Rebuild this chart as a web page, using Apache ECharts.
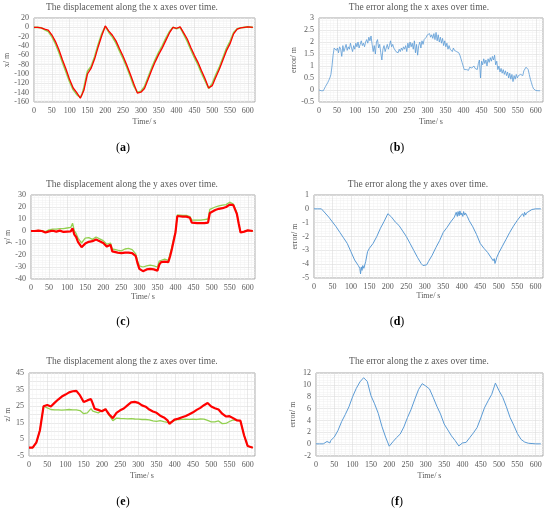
<!DOCTYPE html>
<html>
<head>
<meta charset="utf-8">
<title>displacement and error</title>
<script src="https://cdn.jsdelivr.net/npm/echarts@6/dist/echarts.min.js"></script>
<style>
  html, body { margin: 0; padding: 0; background: #fff; }
  #chart { width: 550px; height: 511px; }
</style>
</head>
<body>
<div id="chart"></div>
<script>
// ---- data (time in s, values in m) ----
// (a) x displacement
const xTime = [0, 10, 20, 30, 40, 50, 60, 70, 80, 90, 100, 110, 120, 130,
  135,
  140, 150, 160, 170, 180, 190, 200, 210, 220, 230,
  240, 250, 260, 270, 280, 290, 300, 310, 320, 330,
  340, 350, 360, 370, 380, 390, 400, 410, 420, 430,
  440, 450, 460, 470, 480, 490,
  495,
  500, 510, 520, 530, 540, 550, 560, 570, 580, 590, 600,
  614];
const xRed = [0, 0, -1, -4, -6, -16, -30, -48, -70, -90, -112, -130, -140, -152,
  -148,
  -135, -100, -88, -68, -42, -18, 3, -8, -17, -29,
  -46, -62, -80, -100, -121, -141, -139, -131, -112, -92,
  -74, -58, -44, -28, -12, 0, -2, 1, -12, -25,
  -43, -60, -75, -93, -110, -130,
  -134,
  -125, -107, -90, -70, -50, -35, -14, -4, -1, 0, 1,
  0];
const xGreen = [0, 0, -1, -5, -9, -20, -35, -54, -76, -96, -117, -134, -144, -150,
  -143,
  -129, -94, -84, -63, -37, -14, 2, -11, -21, -34,
  -51, -67, -85, -105, -126, -139, -137, -127, -107, -87,
  -69, -53, -39, -23, -9, 0, -3, 0, -15, -30,
  -48, -65, -80, -98, -115, -131,
  -132,
  -120, -102, -85, -65, -45, -30, -11, -3, -1, 0, 1,
  0];

// (b) x error, sampled every 3 s
const xErrStep = 3;
const xError = [
  0, 0, -0.03, -0.03, -0.03,
  0.05, 0.15, 0.22, 0.3, 0.4, 0.5, 0.65, 1.0, 1.45, 1.75,
  1.8, 1.65, 1.75, 1.55, 1.8, 1.7, 1.4, 1.85, 1.6, 1.75, 1.9, 1.65, 1.8, 1.7, 1.95, 1.75, 1.6, 1.85, 1.7,
  1.95, 1.8, 2.0, 1.75, 1.9, 2.05, 1.85, 1.95, 1.8, 2.0, 2.1, 1.95, 2.2, 2.05, 2.25, 1.9,
  1.6, 1.85, 1.5, 2.0, 2.1, 1.75, 1.9, 1.55, 1.25, 1.7,
  1.85, 1.6, 1.75, 1.9, 1.7, 1.85, 2.05, 1.8, 1.9, 1.75,
  1.7, 1.6, 1.65, 1.55, 1.7, 1.6, 1.75, 1.65, 1.8, 1.7,
  1.85, 1.6, 1.95, 1.75, 2.0, 1.8, 1.95, 1.7, 2.05, 1.55,
  1.9, 1.45, 1.85, 2.0, 1.75, 2.05, 1.9, 2.1, 2.15, 2.2,
  2.3, 2.25, 2.35, 2.2, 2.3, 2.15, 2.35, 2.1, 2.4, 2.05,
  2.3, 2.0, 2.2, 1.95, 2.15, 1.85, 2.05, 1.8, 1.95, 1.7,
  1.85, 1.7, 1.75, 1.6, 1.75, 1.65, 1.7, 1.6, 1.65, 1.55,
  1.45, 1.3, 1.15, 1.0, 0.85, 0.78, 0.85, 0.9, 0.82, 0.95,
  0.88, 0.92, 0.85, 1.0, 0.9, 0.95, 0.85, 1.1, 1.25, 0.5,
  1.2, 1.05, 1.3, 1.1, 1.25, 1.0, 1.3, 1.15, 1.35, 1.2,
  1.4, 1.25, 1.45, 1.05, 1.2, 0.85, 1.0, 0.75, 0.9, 0.7,
  0.85, 0.65, 0.8, 0.6, 0.75, 0.5, 0.7, 0.45, 0.65, 0.35,
  0.6, 0.45, 0.65, 0.5, 0.6, 0.55, 0.65, 0.7, 0.6, 0.8,
  0.85, 0.95, 1.0, 0.85, 0.65, 0.45, 0.3, 0.15, 0.05, 0.0, -0.02, -0.03, -0.03, -0.03, -0.03
];

// (c) y displacement
const yTime = [0, 10, 20, 30, 40, 50, 60, 70, 80, 90, 100, 110,
  115, 120, 125, 130,
  140, 150, 160, 170, 180, 190, 200, 210,
  215, 220, 225, 230,
  240, 250, 260, 270, 280, 290,
  295,
  300, 310, 320, 330, 340, 350,
  355,
  360, 370, 380,
  385, 390,
  400, 405, 410,
  420, 430, 440,
  445,
  450, 460, 470, 480, 490,
  495,
  500, 510, 520, 530, 540, 550, 560,
  565, 570, 575,
  580, 590, 600,
  614];
const yRed = [0, 0, 0.3, 0, -1.2, -0.3, 0.2, -0.5, 0.3, -0.8, -0.5, -0.3,
  2.3, -3, -5, -9,
  -13.5, -10.5, -9, -8.5, -7, -8.5, -10, -13,
  -14, -11.5, -17, -17.5,
  -18, -18.5, -18, -18, -18.5, -21,
  -27,
  -31.5, -33.5, -32, -31.5, -32, -33,
  -28,
  -26, -25.5, -26,
  -21, -15,
  -1, 12.5, 12.5,
  12, 12, 11,
  7,
  6.5, 6.5, 6.5, 6.5, 7,
  15,
  16, 17.5, 18.5, 19, 20, 22, 21.5,
  21, 14, 6,
  -1.3, -0.5, 0.5,
  0];
const yGreen = [0, 0, 0.5, 0.3, -0.5, 1, 1.5, 1.5, 2, 2, 2.5, 3,
  6.5, 0, -2, -6,
  -10, -6, -5.5, -7, -5, -6.5, -8, -11,
  -12, -10, -15, -15.5,
  -16, -16.5, -15, -14.5, -15.5, -19,
  -25,
  -29, -30, -29, -28.5, -29, -30,
  -25,
  -24, -23.5, -24.5,
  -19, -13,
  0, 13.5, 13.5,
  13, 13, 12,
  9,
  8.5, 9, 9, 9.5, 10,
  18,
  19, 20, 21, 21.5, 22, 24, 22.5,
  22, 15, 6,
  -1, -0.5, 0.5,
  0];

// (d) y error
const yErrTime = [0, 10, 20, 30, 40, 50, 60, 70, 80, 90, 100, 110, 120,
  124, 126, 128, 130, 132, 135,
  140, 145, 150, 155, 160, 170, 180, 190, 200,
  205, 210, 220, 225, 230,
  240, 250, 260, 270, 280, 290,
  295, 300, 305, 310,
  320, 330, 340, 350, 360, 370, 380,
  385, 388, 390, 393, 395, 398, 400, 403, 405, 408, 410, 415,
  420, 430, 440, 450, 460, 470, 480,
  485, 488, 490, 493, 495,
  500, 510, 520, 530, 540, 550, 560,
  565, 568, 570, 573, 575,
  580, 590, 600, 614];
const yError = [0, 0, 0, -0.3, -0.6, -0.95, -1.3, -1.7, -2.1, -2.5, -3.1, -3.7, -4.1,
  -4.3, -4.7, -4.2, -4.45, -4.1, -4.3,
  -3.8, -3.1, -2.85, -2.75, -2.5, -2.0, -1.4, -0.9, -0.35,
  -0.45, -0.6, -0.95, -0.85, -1.2,
  -1.6, -2.0, -2.5, -3.0, -3.5, -3.95,
  -4.1, -4.0, -4.05, -3.8,
  -3.35, -2.8, -2.3, -1.7, -1.35, -0.95, -0.6,
  -0.25, -0.55, -0.2, -0.5, -0.15, -0.45, -0.3, -0.55, -0.2, -0.45, -0.3, -0.55,
  -0.85, -1.3, -1.85, -2.5, -2.85, -3.15, -3.55,
  -3.75, -3.6, -3.95, -3.7, -3.5,
  -3.2, -2.7, -2.2, -1.7, -1.25, -0.85, -0.5,
  -0.35, -0.55, -0.25, -0.45, -0.3,
  -0.2, -0.05, 0, 0];

// (e) z displacement
const zTime = [0, 10, 20, 30, 40, 50, 60, 70, 80, 90, 100, 110, 120, 130, 140, 150,
  155, 160, 170, 175, 180, 190, 200, 210, 215, 220,
  230, 240, 250, 260, 270, 280, 290, 300, 310, 320, 330, 340, 350, 360, 370, 380,
  385, 390,
  400, 410, 420, 430, 440, 450, 460, 470, 480, 490, 500, 510, 520, 530, 540, 550,
  555, 560, 570, 575, 580, 590, 600, 614];
const zRed = [0, 0, 3, 10.5, 25, 25.7, 24.8, 27, 29, 30.8, 32, 33.3, 34, 34.2, 31.5, 27.5,
  27, 28.5, 29.3, 26.5, 23.5, 22.8, 22, 23.2, 21.5, 20,
  17.8, 21, 22.5, 23.6, 25.5, 27.3, 27.6, 27, 25.5, 24.7, 23, 21.8, 21, 19.3, 18.2, 16.5,
  14.4, 15.5,
  17, 17.5, 18.3, 19.1, 20.2, 21.3, 22.8, 24, 25.6, 26.9, 24.8, 23.8, 23, 20.5, 18.8, 19,
  18.5, 17.8, 16.5, 16.4, 16.3, 7.5, 1, 0];
const zGreen = [0, 0, 3, 10.5, 25, 24, 23, 22.8, 22.8, 22.6, 22.8, 23, 22.8, 22.8, 22.4, 20.5,
  19.6, 21, 23.5, 22, 21.2, 21, 22.3, 23.3, 21.5, 19.5,
  16.3, 17.8, 17.6, 17.5, 17.4, 17.5, 17.3, 17.2, 17, 17, 16.8, 16.2, 15.8, 16.3, 15.7, 15.3,
  15.1, 15.6,
  16.5, 17, 17.1, 17.2, 17.1, 17.2, 17, 17.3, 17.2, 16.4, 15.6, 15.5, 16.1, 14.5, 14.6, 15.8,
  16.6, 16.8, 16.7, 16.5, 16.2, 7.3, 1, 0];

// (f) z error
const zErrTime = [0, 10, 20, 25, 30, 35, 38, 40, 45, 50,
  60, 70, 80, 90, 100, 110, 120, 130,
  135,
  140, 150, 160, 170, 180, 190, 200, 210, 220, 230, 240, 250, 260,
  270, 280, 290, 300, 310, 320, 330, 340, 350, 360, 370, 380, 390,
  400, 405, 410,
  420, 430, 440, 450, 460, 470, 480, 490,
  495,
  500, 510, 520, 530, 540, 550, 560, 570, 580, 590, 600,
  614];
const zError = [0.05, 0.05, 0.05, 0.1, 0.45, 0.4, 0.2, 0.6, 0.8, 1.2,
  2.3, 3.8, 5.0, 6.3, 8.0, 9.4, 10.5, 11.2,
  11.3,
  10.6, 8.2, 6.8, 5.2, 3.0, 1.2, -0.35, 0.4, 1.1, 1.7, 2.9, 4.5, 5.9,
  7.6, 9.2, 10.2, 9.8, 9.3, 7.9, 6.4, 5.1, 3.4, 2.4, 1.4, 0.6, -0.3,
  0.2, 0.5, 0.3,
  1.1, 1.9, 2.8, 4.4, 6.1, 7.3, 8.4, 10.3,
  10.2,
  9.0, 7.9, 6.3, 4.5, 3.2, 1.8, 0.8, 0.35, 0.15, 0.1, 0.05,
  0.05];

const titles = [
  'The displacement along the x axes over time.',
  'The error along the x axes over time.',
  'The displacement along the y axes over time.',
  'The error along the y axes over time.',
  'The displacement along the z axes over time.',
  'The error along the z axes over time.'
];
const panelLetters = ['a', 'b', 'c', 'd', 'e', 'f'];
const yNames = ['x/ m', 'error/ m', 'y/ m', 'error/ m', 'z/ m', 'error/ m'];
const xName = 'Time/ s';

// ---- layout ----
const FONT = 'Liberation Serif';
const TXT = '#595959';
const RED = '#ff0000', GREEN = '#92d050', BLUE = '#5b9bd5';

const grids = [
  { left: 34, top: 18, width: 221, height: 84 },
  { left: 319, top: 18, width: 224, height: 84 },
  { left: 31, top: 195, width: 224, height: 84 },
  { left: 314, top: 195, width: 229, height: 83 },
  { left: 29, top: 373, width: 226, height: 83 },
  { left: 316, top: 373, width: 227, height: 83 }
];
const yRanges = [
  { min: -160, max: 20, interval: 20, gap: 21 },
  { min: -0.5, max: 3, interval: 0.5, gap: 17 },
  { min: -40, max: 30, interval: 10, gap: 17 },
  { min: -5, max: 1, interval: 1, gap: 13 },
  { min: -5, max: 45, interval: 5, gap: 16, every: 10 },
  { min: -2, max: 12, interval: 2, gap: 19 }
];
const xGaps = [16, 16, 14, 14, 16, 16];
const titleY = [7, 7, 184, 184, 361, 361];
const titleX = [132, 419, 132, 418, 132, 419];
const letterPos = [[123, 148], [397, 148], [123, 322], [397, 322], [123, 502], [397, 502]];

function pairs(t, v) { return t.map((x, i) => [x, v[i]]); }
function stepPairs(step, v) { return v.map((y, i) => [i * step, y]); }

const option = {
  animation: false,
  backgroundColor: '#fff',
  textStyle: { fontFamily: FONT },
  grid: [], xAxis: [], yAxis: [], series: [], graphic: []
};

grids.forEach(function (g, i) {
  option.grid.push(Object.assign({
    show: true, borderColor: '#a6a6a6', borderWidth: 1, backgroundColor: '#fff'
  }, g));
  option.xAxis.push({
    type: 'value', gridIndex: i, min: 0, max: 620, interval: 50,
    name: xName, nameLocation: 'middle', nameGap: xGaps[i],
    nameTextStyle: { fontFamily: FONT, fontSize: 8, color: TXT },
    axisLine: { show: false }, axisTick: { show: false },
    axisLabel: { showMaxLabel: false, fontFamily: FONT, fontSize: 8, color: TXT, margin: 5 },
    splitLine: { show: true, lineStyle: { color: '#dcdcdc', width: 0.6 } },
    minorTick: { show: false, splitNumber: 5 },
    minorSplitLine: { show: true, lineStyle: { color: '#f0f0f0', width: 0.5 } }
  });
  const r = yRanges[i];
  option.yAxis.push({
    type: 'value', gridIndex: i, min: r.min, max: r.max, interval: r.interval,
    name: yNames[i], nameLocation: 'middle', nameGap: r.gap,
    nameTextStyle: { fontFamily: FONT, fontSize: 8, color: TXT },
    axisLine: { show: false }, axisTick: { show: false },
    axisLabel: {
      fontFamily: FONT, fontSize: 8, color: TXT, margin: 5,
      formatter: r.every ? function (v) { return ((v - r.min) % r.every === 0) ? String(v) : ''; } : null
    },
    splitLine: { show: true, lineStyle: { color: '#dcdcdc', width: 0.6 } },
    minorTick: { show: false, splitNumber: r.every ? 2 : 5 },
    minorSplitLine: { show: true, lineStyle: { color: '#f0f0f0', width: 0.5 } }
  });
  option.graphic.push({
    type: 'text', x: titleX[i], y: titleY[i],
    style: { text: titles[i], fontFamily: FONT, fontSize: 9.5, fill: TXT, align: 'center', verticalAlign: 'middle' }
  });
  option.graphic.push({
    type: 'text', x: letterPos[i][0], y: letterPos[i][1],
    style: {
      text: '{p|(}{b|' + panelLetters[i] + '}{p|)}',
      align: 'center', verticalAlign: 'middle',
      rich: {
        p: { fontFamily: FONT, fontSize: 12, fill: '#000' },
        b: { fontFamily: FONT, fontSize: 12, fontWeight: 'bold', fill: '#000' }
      }
    }
  });
});

function line(idx, data, color, width) {
  return {
    type: 'line', xAxisIndex: idx, yAxisIndex: idx, data: data,
    showSymbol: false, symbol: 'none', smooth: false,
    lineStyle: { color: color, width: width }, itemStyle: { color: color }
  };
}

option.series.push(line(0, pairs(xTime, xGreen), GREEN, 1.6));
option.series.push(line(0, pairs(xTime, xRed), RED, 1.3));
option.series.push(line(1, stepPairs(xErrStep, xError), BLUE, 0.8));
option.series.push(line(2, pairs(yTime, yGreen), GREEN, 1.3));
option.series.push(line(2, pairs(yTime, yRed), RED, 2.2));
option.series.push(line(3, pairs(yErrTime, yError), BLUE, 1));
option.series.push(line(4, pairs(zTime, zGreen), GREEN, 1.3));
option.series.push(line(4, pairs(zTime, zRed), RED, 2.2));
option.series.push(line(5, pairs(zErrTime, zError), BLUE, 1));

let mychart = echarts.init(document.getElementById('chart'));
mychart.setOption(option);
</script>
</body>
</html>
